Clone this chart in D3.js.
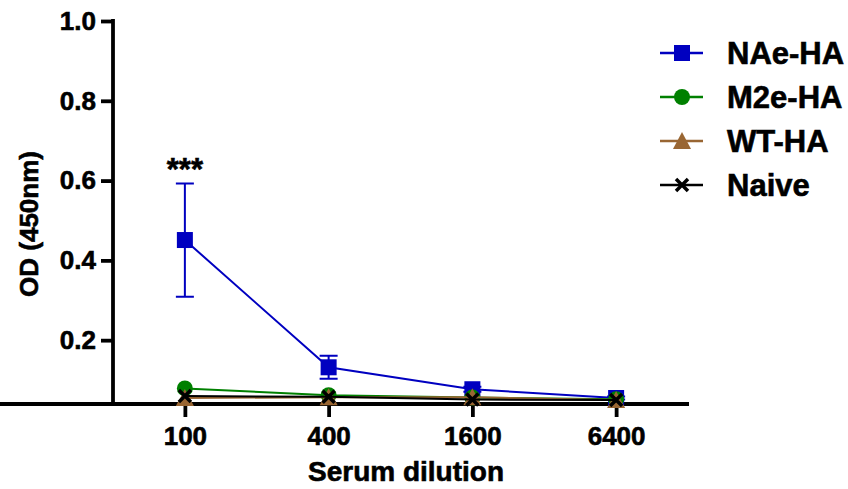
<!DOCTYPE html>
<html><head><meta charset="utf-8">
<script src="https://cdn.jsdelivr.net/npm/d3@7"></script>
<style>html,body{margin:0;padding:0;background:#fff;}svg{display:block;}</style>
</head><body>
<script>
const dilutions = [100, 400, 1600, 6400];
const seriesNames = ["NAe-HA", "M2e-HA", "WT-HA", "Naive"];
const naeHA = [0.451, 0.132, 0.077, 0.055];
const naeHAErr = [0.142, 0.029, 0.006, 0.004];
const m2eHA = [0.079, 0.062, 0.056, 0.052];
const wtHA = [0.055, 0.057, 0.057, 0.050];
const naive = [0.060, 0.058, 0.051, 0.050];
const yTicks = [0.2, 0.4, 0.6, 0.8, 1.0];
const colors = ["#0000C0", "#008000", "#996633", "#000000"];
const shapes = ["square", "circle", "triangle", "cross"];

const W = 848, H = 489;
const svg = d3.select("body").append("svg").attr("width", W).attr("height", H);
const font = "'Liberation Sans', Arial, sans-serif";

const x = d3.scaleLog().base(4).domain([50, 12800]).range([113, 688]);
const y = d3.scaleLinear().domain([0.04, 1.0]).range([404, 21]);

const allSeries = [naeHA, m2eHA, wtHA, naive];
const errs = [naeHAErr, null, null, null];

function boldText(sel) {
  return sel.attr("font-family", font).attr("font-weight", "bold").attr("fill", "#000")
    .attr("stroke", "#000").attr("stroke-width", 0.6);
}

// axes
const yAxis = svg.append("g").attr("transform", "translate(113,0)")
  .call(d3.axisLeft(y).tickValues(yTicks).tickFormat(d3.format(".1f")).tickSize(12).tickSizeOuter(0).tickPadding(5));
const xAxis = svg.append("g").attr("transform", "translate(0,404)")
  .call(d3.axisBottom(x).tickValues(dilutions).tickFormat(d => d).tickSize(13).tickSizeOuter(0).tickPadding(10));
[yAxis, xAxis].forEach(g => {
  g.select(".domain").attr("stroke", "#000").attr("stroke-width", 3.8);
  g.selectAll(".tick line").attr("stroke", "#000").attr("stroke-width", 3.8);
  boldText(g.selectAll(".tick text")).attr("font-size", 26);
});
yAxis.select(".domain").attr("d", `M0,${y(1.0) - 2}V${y(0.04) + 1.9}`);
xAxis.select(".domain").attr("d", `M-1.9,0H689`);

// axis titles
boldText(svg.append("text").attr("x", 406).attr("y", 481).attr("text-anchor", "middle"))
  .attr("font-size", 28).text("Serum dilution");
boldText(svg.append("text").attr("transform", "translate(38,224) rotate(-90)").attr("text-anchor", "middle"))
  .attr("font-size", 26).text("OD (450nm)");

function drawMarker(g, shape, cx, cy, color, s) {
  if (shape === "square") {
    g.append("rect").attr("x", cx - s/2).attr("y", cy - s/2).attr("width", s).attr("height", s).attr("fill", color);
  } else if (shape === "circle") {
    g.append("circle").attr("cx", cx).attr("cy", cy).attr("r", s/2).attr("fill", color);
  } else if (shape === "triangle") {
    const h = s;
    g.append("path").attr("d", `M${cx},${cy - h/2 - 1}L${cx + s/2 + 1},${cy + h/2}L${cx - s/2 - 1},${cy + h/2}Z`).attr("fill", color);
  } else {
    const r = 6;
    g.append("path").attr("d", `M${cx - r},${cy - r}L${cx + r},${cy + r}M${cx - r},${cy + r}L${cx + r},${cy - r}`)
      .attr("stroke", color).attr("stroke-width", 3.5).attr("fill", "none");
  }
}

const line = d3.line().x(d => x(d[0])).y(d => y(d[1]));
allSeries.forEach((vals, i) => {
  const g = svg.append("g");
  const pts = dilutions.map((d, j) => [d, vals[j]]);
  if (errs[i]) {
    dilutions.forEach((d, j) => {
      const e = errs[i][j];
      const cx = x(d), top = y(vals[j] + e), bot = y(vals[j] - e);
      g.append("path").attr("d", `M${cx},${top}V${bot}M${cx - 9},${top}H${cx + 9}M${cx - 9},${bot}H${cx + 9}`)
        .attr("stroke", colors[i]).attr("stroke-width", 2).attr("fill", "none");
    });
  }
  g.append("path").datum(pts).attr("d", line).attr("fill", "none").attr("stroke", colors[i]).attr("stroke-width", 2);
  pts.forEach(p => drawMarker(g, shapes[i], x(p[0]), y(p[1]), colors[i], 16));
});

// significance
boldText(svg.append("text").attr("x", x(100)).attr("y", 180).attr("text-anchor", "middle"))
  .attr("font-size", 31).text("***");

// legend
const legY = [53, 97, 141, 185];
seriesNames.forEach((name, i) => {
  const g = svg.append("g");
  g.append("line").attr("x1", 660).attr("x2", 703).attr("y1", legY[i]).attr("y2", legY[i])
    .attr("stroke", colors[i]).attr("stroke-width", 2.5);
  drawMarker(g, shapes[i], 682, legY[i], colors[i], 16);
  boldText(g.append("text").attr("x", 727).attr("y", legY[i] + 11))
    .attr("font-size", 31).text(name);
});
</script>
</body></html>
